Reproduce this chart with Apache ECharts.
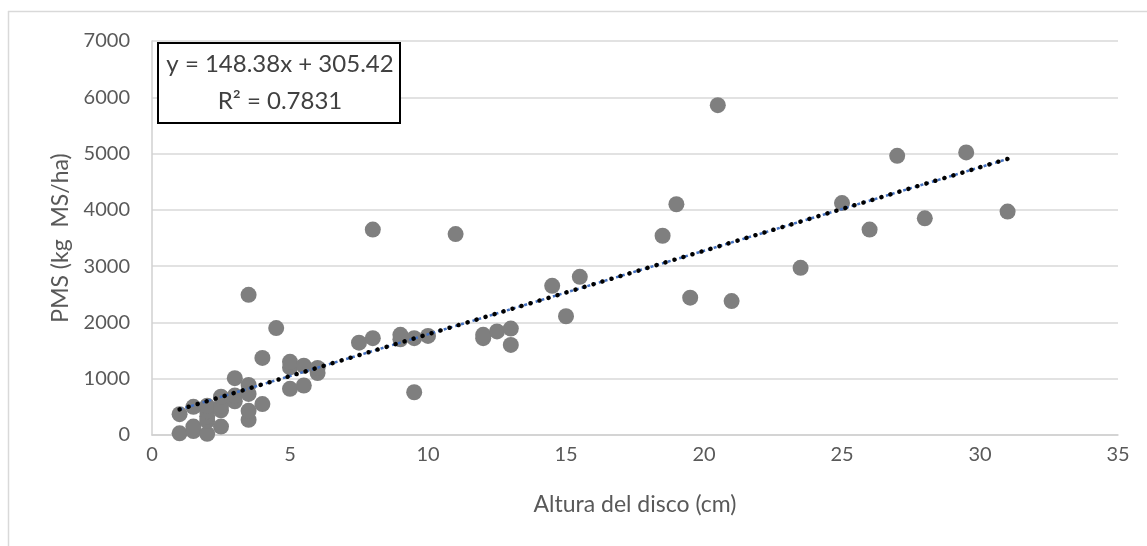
<!DOCTYPE html>
<html>
<head>
<meta charset="utf-8">
<script src="https://cdn.jsdelivr.net/npm/echarts@6/dist/echarts.min.js"></script>
<style>
html,body{margin:0;padding:0;background:#fff;}
#chart{width:1147px;height:546px;}
</style>
</head>
<body>
<div id="chart"></div>
<script>
// Observed points: disc height (cm) and PMS (kg MS/ha)
const xValues = [1, 1, 1.5, 1.5, 1.5, 2, 2, 2, 2, 2, 2.5, 2.5, 2.5, 2.5, 3, 3, 3, 3.5, 3.5, 3.5, 3.5, 3.5, 4, 4, 4.5, 5, 5, 5, 5.5, 5.5, 6, 6, 7.5, 8, 8, 9, 9, 9.5, 9.5, 10, 11, 12, 12, 12.5, 13, 13, 14.5, 15, 15.5, 18.5, 19, 19.5, 20.5, 21, 23.5, 25, 26, 27, 28, 29.5, 31];
const yValues = [30, 370, 70, 150, 500, 20, 250, 330, 420, 520, 150, 440, 520, 680, 600, 700, 1010, 270, 430, 730, 890, 2490, 550, 1370, 1900, 820, 1200, 1300, 880, 1230, 1100, 1190, 1640, 1720, 3650, 1700, 1780, 760, 1720, 1760, 3570, 1720, 1780, 1840, 1600, 1890, 2650, 2110, 2810, 3540, 4100, 2440, 5860, 2380, 2970, 4120, 3650, 4960, 3850, 5020, 3970];
// Trendline endpoints (as shown: y = 148.38x + 305.42, from x=1 to x=31)
const trendX = [1, 31];
const trendY = [454, 4905];
const xTicks = [0, 5, 10, 15, 20, 25, 30, 35];
const yTicks = [0, 1000, 2000, 3000, 4000, 5000, 6000, 7000];
const eqLine1 = 'y = 148.38x + 305.42';
const eqLine2 = 'R² = 0.7831';
const xTitle = 'Altura del disco (cm)';
const yTitle = 'PMS (kg  MS/ha)';

const points = xValues.map((x, i) => [x, yValues[i]]);
const trend = trendX.map((x, i) => [x, trendY[i]]);

const chart = echarts.init(document.getElementById('chart'));
const font = 'Lato, "Open Sans", sans-serif';
chart.setOption({
  animation: false,
  backgroundColor: '#fff',
  grid: {left: 152, right: 29, top: 41, bottom: 111},
  xAxis: {
    type: 'value', min: xTicks[0], max: xTicks[xTicks.length - 1], interval: 5,
    name: xTitle, nameLocation: 'middle', nameGap: 58,
    nameTextStyle: {color: '#595959', fontSize: 23, fontFamily: font},
    axisLine: {show: true, lineStyle: {color: '#d0d0d0', width: 1.5}},
    axisTick: {show: false},
    splitLine: {show: false},
    axisLabel: {color: '#595959', fontSize: 20, fontFamily: font, margin: 10,
      formatter: v => String(v)}
  },
  yAxis: {
    type: 'value', min: yTicks[0], max: yTicks[yTicks.length - 1], interval: 1000,
    name: yTitle, nameLocation: 'middle', nameGap: 80,
    nameTextStyle: {color: '#595959', fontSize: 23, fontFamily: font},
    axisLine: {show: true, lineStyle: {color: '#d0d0d0', width: 1.5}},
    axisTick: {show: false},
    splitLine: {show: true, lineStyle: {color: '#d9d9d9', width: 1.5}},
    axisLabel: {color: '#595959', fontSize: 20, fontFamily: font, margin: 22,
      formatter: v => String(v)}
  },
  series: [
    {
      type: 'scatter', data: points, symbol: 'circle', symbolSize: 16,
      itemStyle: {color: '#7f7f7f', opacity: 1}, z: 2
    },
    {
      type: 'line', data: trend, symbol: 'none', z: 3,
      lineStyle: {color: '#4472c4', width: 2.5, type: [3, 3]}
    },
    {
      type: 'line', data: trend, symbol: 'none', z: 4,
      lineStyle: {color: '#000', width: 4.5, type: [0.1, 9.3], cap: 'round'}
    }
  ],
  graphic: [
    {type: 'line', shape: {x1: 8, y1: 11.5, x2: 1147, y2: 11.5}, style: {stroke: '#d9d9d9', lineWidth: 1.5}},
    {type: 'line', shape: {x1: 8.5, y1: 11, x2: 8.5, y2: 546}, style: {stroke: '#d9d9d9', lineWidth: 1.5}},
    {type: 'rect', shape: {x: 158, y: 43, width: 242, height: 80}, style: {fill: '#fff', stroke: '#000', lineWidth: 2}, z: 10},
    {type: 'text', x: 280, y: 64, z: 11, style: {text: eqLine1, fill: '#404040', font: '24px ' + font, textAlign: 'center', textVerticalAlign: 'middle'}},
    {type: 'text', x: 280, y: 101, z: 11, style: {text: eqLine2, fill: '#404040', font: '24px ' + font, textAlign: 'center', textVerticalAlign: 'middle'}}
  ]
});
</script>
</body>
</html>
